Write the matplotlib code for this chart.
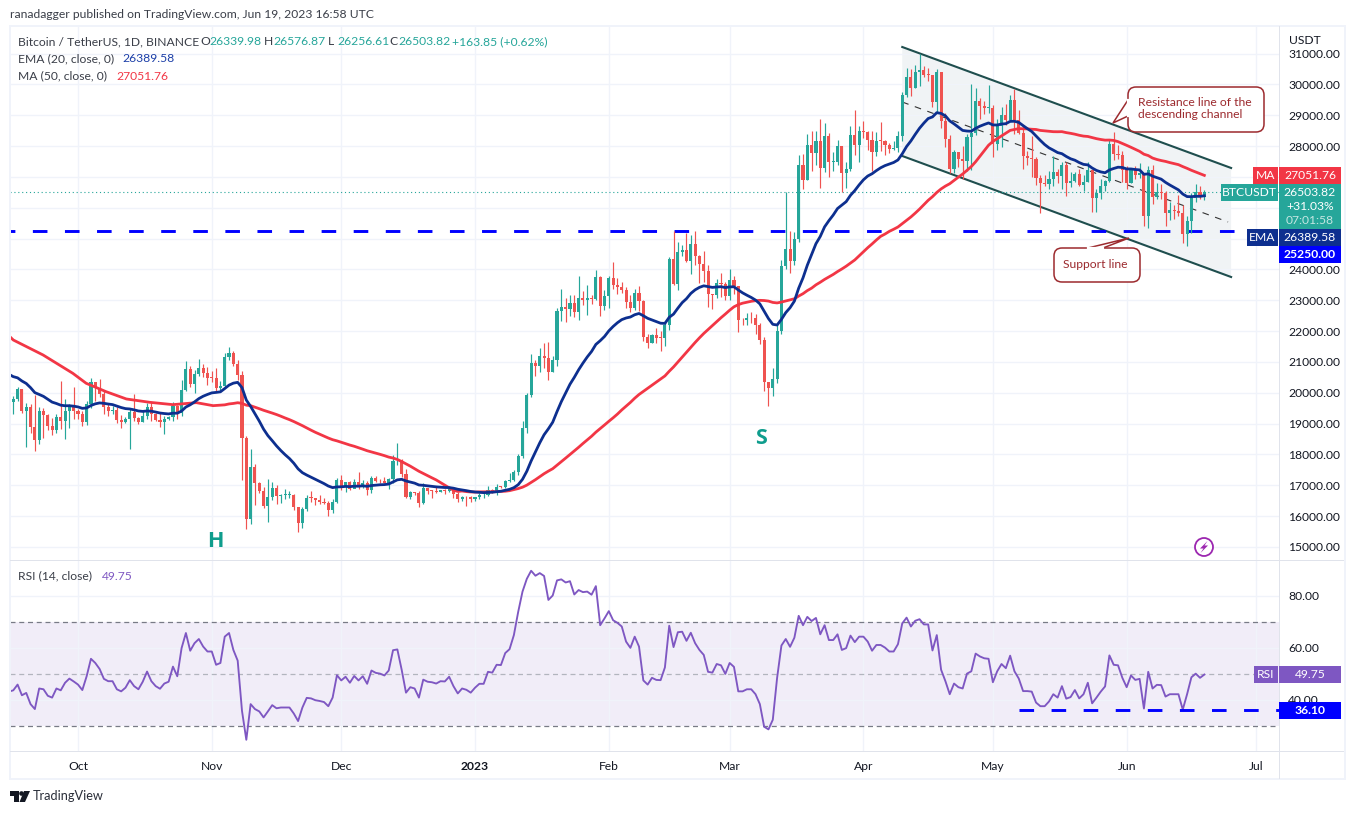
import matplotlib
matplotlib.use("Agg")
import matplotlib.pyplot as plt
import numpy as np
from matplotlib.patches import Rectangle, FancyBboxPatch, Polygon, Circle

plt.rcParams['font.family'] = ['Lato', 'DejaVu Sans']

# ---- daily candles, 15 Sep 2022 .. 19 Jun 2023 (values in USDT) ----
first_open = 20227
close_sep = [19701,19803,20113,19416,19537,18875,18461,19401,19288,18920,18802,19222,19079,19412,19591,19422]
high_sep  = [20330,19897,20200,20124,19659,19634,19929,19551,19500,19316,19180,19315,20383,19790,19645,20181]
low_sep   = [19497,19313,19748,19356,18254,18708,18124,18340,18532,18805,18630,18680,18816,18492,18843,19160]
close_oct = [19310,19056,19629,20337,20158,19955,19531,19417,19439,19131,19060,19155,19375,19176,19068,19262,19549,19327,19123,19041,19164,19204,19570,19329,20080,20771,20295,20595,20818,20635,20495]
high_oct  = [19484,19395,19719,20475,20365,20456,20055,19622,19560,19525,19267,19221,19513,19950,19212,19420,19676,19700,19347,19345,19250,19250,19695,19600,20400,21020,20860,20750,21090,20930,20840]
low_oct   = [19159,18920,18959,19493,19730,19854,19320,19255,19313,19024,18860,19015,18190,19070,18975,19063,19160,19100,19070,18900,18650,19115,19070,19160,19240,20050,20200,20000,20550,20510,20240]
close_nov = [20485,20159,20208,21148,21299,20925,20590,18547,15922,17601,17070,16812,16330,16619,16900,16662,16692,16700,16700,16280,15781,16226,16603,16598,16522,16458,16428,16212,16442,17163]
high_nov  = [20700,20800,20390,21300,21480,21360,21060,20700,18590,18170,17680,17100,16960,17190,17100,17000,16730,16880,16830,16720,16290,16300,16670,16810,16600,16700,16600,16480,16550,17245]
low_nov   = [20350,20050,20030,20180,21080,20880,20400,17166,15588,15746,16361,16750,16260,15815,16525,16400,16420,16550,16600,16200,15480,15630,16170,16460,16350,16400,16400,16000,16100,16420]
close_dec = [16978,17092,16885,17105,16966,17089,16836,17224,17128,17127,17085,17208,17774,17803,17356,16632,16777,16739,16438,16897,16824,16821,16778,16837,16830,16917,16707,16547,16633,16607,16542]
high_dec  = [17320,17105,17150,17200,17420,17160,17140,17300,17300,17220,17270,17240,17990,18380,17840,17520,16800,16790,16815,17060,16900,16860,16950,16860,16865,16930,16950,16780,16660,16640,16640]
low_dec   = [16860,16790,16860,16900,16880,16910,16690,16740,17100,17090,17070,16870,17070,17660,17280,16580,16570,16700,16300,16400,16720,16600,16750,16790,16730,16790,16590,16460,16490,16330,16470]
close_jan = [16616,16672,16674,16850,16831,16950,16943,17127,17178,17440,17943,18846,19930,20954,20871,21185,21132,20677,21071,22667,22783,22707,22917,22632,23060,23009,23074,23031,23743,22827,23125]
high_jan  = [16630,16760,16770,16990,16880,17040,16980,17180,17400,17500,18000,19100,20000,21260,21080,21460,21610,21650,21190,22750,23370,23080,23170,23170,23800,23290,23500,23180,23970,23800,23320]
low_jan   = [16490,16550,16600,16660,16750,16670,16910,16910,17100,17150,17320,17900,18710,19880,20550,20660,20820,20400,20660,20860,22340,22290,22500,22470,22350,22850,22520,22880,23000,22500,22700]
close_feb = [23733,23488,23431,23326,22932,22762,23240,22963,21796,21625,21862,21783,21773,22199,24324,23538,24566,24630,24272,24837,24439,24188,23947,23198,23175,23561,23522,23147]
high_feb  = [23800,24250,23720,23580,23440,23160,23370,23450,23000,21900,21910,22100,21990,22320,24400,25250,24900,24800,25190,25130,25250,24480,24600,24130,23220,23680,23880,23600]
low_feb   = [22750,23360,23200,23250,22740,22630,22700,22650,21690,21450,21600,21630,21350,21530,22050,23500,23330,24440,24230,23840,24150,23570,23600,22770,22720,23080,23100,23020]
close_mar = [23646,23475,22362,22346,22430,22410,22197,21705,20362,20150,20455,21997,24113,24670,24285,24998,27395,26907,28038,27767,28175,27307,28333,27493,27494,27994,27139,27268,28348,28033,28478]
high_mar  = [24000,23780,23480,22420,22600,22620,22540,22270,21800,20300,20800,22220,24300,26500,25250,25200,27700,27750,28400,28500,28480,28870,28750,28420,27800,28200,28000,27500,28650,29170,28650]
low_mar   = [23020,23200,21960,22200,22200,22250,21900,21580,20050,19570,19900,20330,21900,24000,23900,24130,24900,26600,26900,27200,27380,26630,27150,27000,27200,27400,26500,26650,27200,27700,27500]
close_apr = [28473,28199,27812,28175,28170,28033,27906,27947,28333,29652,30235,29884,30399,30485,30318,30315,29445,30397,28822,28245,27262,27816,27590,27510,28300,28416,29472,29311,29230,29233]
high_apr  = [28800,28500,28500,28450,28770,28200,28100,28170,28500,29770,30550,30500,30620,31000,30600,30550,30320,30490,30400,29070,28370,27880,27820,28000,28400,30020,29890,29570,29450,29980]
low_apr   = [28250,27870,27200,27670,27830,27700,27770,27880,27800,28170,29600,29620,29880,29950,30230,30120,29270,29100,28600,27980,27130,27120,27320,26950,27200,27240,28370,28880,29030,29080]
close_may = [28068,28669,29026,28838,29506,28848,28430,27668,27628,27598,26968,26805,26784,26931,27171,27036,27403,26821,26880,27102,26747,26851,27225,26334,26473,26705,26868,28085,27745,27702,27219]
high_may  = [29330,28880,29260,29370,29670,29840,29180,28660,27840,28330,27660,27050,27050,27200,27670,27270,27470,27490,27170,27150,27260,27050,27470,27230,26600,26930,26900,28200,28450,28050,27830]
low_may   = [27660,27870,27970,28680,28820,28400,28390,27250,27380,27000,26750,25830,26700,26600,26700,26800,26600,26380,26660,26850,26700,26550,26830,25860,25880,26300,26550,26850,27550,27570,26840]
close_jun = [26819,27249,27069,27115,25728,27231,26339,26498,26477,25841,25925,25902,25841,25160,25574,26333,26510,26339,26503.82]
high_jun  = [27350,27300,27340,27440,27130,27350,27380,26810,26780,26540,26200,26090,26400,26090,25750,26470,26770,26700,26576.87]
low_jun   = [26600,26800,26930,26970,25400,25350,26120,26300,26280,25400,25620,25640,25740,24850,24750,25170,26180,26290,26256.61]

# ---- EMA(20), one value a day, 15 Sep 2022 .. 19 Jun 2023 ----
ema_val = [20600,20524,20485,20383,20303,20167,20005,19947,19884,19792,
           19698,19653,19598,19580,19581,19566,19542,19496,19509,19588,
           19642,19672,19659,19636,19617,19571,19522,19487,19476,19447,
           19411,19397,19411,19403,19376,19344,19327,19315,19339,19338,
           19409,19539,19611,19705,19811,19889,19947,19998,20013,20032,
           20138,20249,20313,20339,20168,19765,19559,19322,19083,18821,
           18611,18448,18278,18127,17991,17868,17717,17533,17409,17332,
           17262,17192,17122,17056,16976,16925,16948,16951,16964,16957,
           16971,16971,16982,16968,16992,17005,17017,17023,17041,17111,
           17177,17194,17140,17105,17070,17010,16999,16982,16967,16949,
           16938,16928,16927,16906,16872,16849,16826,16799,16782,16771,
           16762,16770,16776,16793,16807,16837,16869,16923,17020,17194,
           17455,17788,18082,18377,18639,18833,19046,19391,19714,19999,
           20277,20501,20745,20961,21162,21340,21569,21689,21826,22008,
           22151,22273,22373,22426,22458,22532,22573,22499,22416,22363,
           22308,22257,22251,22449,22553,22745,22924,23053,23223,23339,
           23420,23470,23444,23419,23432,23441,23413,23435,23439,23336,
           23242,23165,23093,23008,22884,22644,22407,22221,22199,22382,
           22600,22760,22973,23394,23728,24139,24484,24836,25071,25382,
           25583,25765,25977,26088,26200,26405,26560,26743,26908,27031,
           27105,27207,27299,27369,27420,27470,27552,27752,27988,28169,
           28381,28581,28747,28896,28948,29086,29061,28983,28819,28723,
           28615,28510,28490,28483,28577,28647,28703,28753,28688,28686,
           28718,28729,28803,28807,28771,28666,28567,28475,28331,28186,
           28052,27945,27871,27792,27755,27666,27591,27544,27468,27409,
           27392,27291,27213,27165,27137,27227,27276,27317,27308,27261,
           27260,27242,27230,27087,27101,27028,26978,26930,26826,26740,
           26660,26582,26447,26364,26361,26375,26372,26389.58]

# ---- MA(50): read at these day numbers up to day 47, then daily from day 50 ----
ma_early_day = [0,1,7.9,14.8,17.9,22.5,27.2,32.6,38,43.4,47.3]
ma_early_val = [21850,21713,21227,20632,20308,20037,19800,19692,19616,19681,19583]
ma_daily_val = [19609,19639,19655,19678,19658,19599,19582,19535,19485,19433,
                19389,19343,19295,19241,19183,19129,19068,19002,18934,18859,
                18788,18719,18658,18598,18533,18479,18441,18397,18351,18305,
                18266,18220,18171,18121,18083,18045,18004,17962,17915,17884,
                17838,17770,17697,17621,17539,17455,17383,17310,17243,17174,
                17088,16999,16919,16841,16801,16815,16795,16784,16780,16787,
                16788,16787,16790,16795,16800,16808,16826,16859,16894,16938,
                17005,17094,17182,17277,17376,17460,17538,17652,17766,17882,
                17999,18112,18232,18355,18472,18590,18723,18838,18956,19075,
                19189,19310,19444,19567,19688,19824,19945,20045,20141,20243,
                20342,20441,20547,20699,20839,20998,21158,21313,21477,21632,
                21782,21924,22051,22175,22307,22435,22554,22678,22789,22859,
                22907,22937,22968,22988,22999,22993,22975,22931,22915,22943,
                22978,23011,23050,23138,23215,23315,23395,23502,23586,23678,
                23758,23839,23932,24016,24106,24208,24309,24443,24580,24707,
                24828,24956,25075,25149,25236,25304,25378,25486,25594,25703,
                25827,25958,26100,26243,26361,26499,26613,26705,26781,26890,
                26995,27097,27215,27339,27494,27673,27855,28031,28152,28243,
                28330,28421,28511,28540,28570,28563,28560,28548,28541,28510,
                28496,28485,28469,28467,28470,28439,28416,28388,28353,28326,
                28314,28277,28243,28216,28195,28198,28186,28147,28087,28026,
                27963,27895,27831,27739,27695,27614,27568,27533,27505,27467,
                27433,27400,27337,27280,27217,27161,27103,27051.76]

# ---- RSI(14), one reading a day, last one on 19 Jun 2023 ----
rsi_val = [43.2,43.7,45.9,41.8,42.7,38.4,36.5,44.4,44.1,41.6,40.9,44.4,43.7,46.6,48.2,47.1,45.9,43.8,49.1,55.8,54.2,51.9,48.1,47.2,47.2,44.1,43.3,44.7,47.6,45.3,
           44.1,47.0,50.9,47.2,45.3,44.3,46.3,47.0,52.8,49.1,59.9,65.7,58.9,61.8,63.4,60.5,58.6,58.6,53.5,54.2,64.3,65.7,59.2,55.1,35.8,24.7,38.4,36.5,35.6,33.3,
           35.6,38.0,36.8,37.1,37.1,37.1,34.8,31.9,37.1,40.8,40.6,39.9,39.6,39.2,37.6,40.9,49.5,47.5,48.9,46.6,49.2,47.5,49.1,46.2,51.3,50.4,50.1,49.4,51.3,59.1,
           59.4,51.6,42.8,44.9,44.4,40.9,47.8,47.0,46.8,46.3,47.2,47.1,48.9,45.3,42.5,44.4,43.9,42.8,44.7,46.2,46.2,50.8,50.5,53.5,53.4,58.0,59.5,64.9,73.8,81.6,
           86.5,89.6,87.7,88.7,87.6,78.4,80.1,85.9,86.3,85.1,85.6,80.5,82.2,81.4,81.6,80.4,83.7,68.7,71.3,74.1,70.6,69.6,68.2,62.4,60.0,64.3,60.5,47.5,45.9,48.5,
           47.7,47.6,52.5,68.5,60.3,66.0,66.2,62.7,65.8,61.8,59.2,57.3,50.8,50.5,53.8,53.3,50.0,54.2,52.7,43.3,43.3,44.1,44.1,42.2,38.4,29.7,28.7,32.4,48.5,60.9,
           63.4,60.4,63.9,72.3,68.7,71.9,70.3,71.5,65.2,68.7,63.0,63.0,65.2,59.2,59.9,64.7,62.2,64.3,64.3,62.4,58.9,61.1,61.1,60.1,58.6,58.6,61.4,69.4,71.6,68.2,
           70.4,71.0,69.0,69.0,59.0,64.9,51.6,47.2,42.2,46.3,44.9,44.4,50.1,51.0,57.8,56.7,56.0,55.8,46.8,51.0,53.8,52.2,57.0,51.0,48.2,43.4,43.4,43.2,39.0,37.6,
           37.6,39.4,42.2,40.9,45.3,40.5,41.1,43.8,40.6,42.2,46.6,38.7,40.9,43.2,45.2,57.1,53.5,53.3,48.5,44.9,49.4,47.7,48.1,36.7,50.8,44.4,45.8,45.7,41.3,42.2,
           42.2,42.2,36.3,42.2,48.7,50.1,48.5,49.75]

# ---- axis labels and levels ----
price_ticks = [15000,16000,17000,18000,19000,20000,21000,22000,23000,24000,25000,26000,27000,28000,29000,30000,31000]
price_labels = {15000:'15000.00',16000:'16000.00',17000:'17000.00',18000:'18000.00',19000:'19000.00',20000:'20000.00',21000:'21000.00',22000:'22000.00',23000:'23000.00',24000:'24000.00',28000:'28000.00',29000:'29000.00',30000:'30000.00',31000:'31000.00'}
month_days = [16,47,77,108,139,167,198,228,259,289]
month_names = ['Oct','Nov','Dec','2023','Feb','Mar','Apr','May','Jun','Jul']
rsi_ticks = [40,60,80]
rsi_labels = ['40.00','60.00','80.00']
support_level = 25250
rsi_level = 36.10
last_close = 26503.82

UP, DOWN = '#26a69a', '#ef5350'
NAVY, RED, PURPLE, BLUE = '#0d2f8f', '#f23645', '#7e57c2', '#0000ff'
GRID, SEP, INK = '#f0f3fa', '#e0e3eb', '#131722'
CHANNEL = '#1f4e4e'
CALLOUT = '#9c2a2e'
FS = 8.7

closes = np.array(close_sep+close_oct+close_nov+close_dec+close_jan+close_feb+close_mar+close_apr+close_may+close_jun, float)
highs = np.array(high_sep+high_oct+high_nov+high_dec+high_jan+high_feb+high_mar+high_apr+high_may+high_jun, float)
lows = np.array(low_sep+low_oct+low_nov+low_dec+low_jan+low_feb+low_mar+low_apr+low_may+low_jun, float)
opens = np.r_[first_open, closes[:-1]]
days = np.arange(len(closes))

W, H = 1355, 814
fig = plt.figure(figsize=(W/100, H/100), dpi=100, facecolor='white')
def axes_px(x0, y0, x1, y1, **kw):
    return fig.add_axes([x0/W, 1-y1/H, (x1-x0)/W, (y1-y0)/H], **kw)

XLIM = (0.24, 294.3)
ax = axes_px(10, 26, 1279, 560)
rs = axes_px(10, 561, 1279, 751)
ax.set_xlim(XLIM); rs.set_xlim(XLIM)
ax.set_ylim(14577, 31897)
rs.set_ylim(20.4, 93.35)
for a in (ax, rs):
    for s in a.spines.values():
        s.set_visible(False)
    a.set_xticks(month_days)
    a.grid(True, color=GRID, lw=1.0)
    a.set_axisbelow(True)
    a.tick_params(length=0)

ax.set_xticklabels([])
ax.yaxis.tick_right()
ax.set_yticks(price_ticks)
ax.set_yticklabels([price_labels.get(t, '') for t in price_ticks], fontsize=FS, color=INK)
ax.tick_params(axis='y', pad=6.5)

rs.yaxis.tick_right()
rs.set_yticks(rsi_ticks)
rs.set_yticklabels(rsi_labels, fontsize=FS, color=INK)
rs.tick_params(axis='y', pad=6.5)
rs.set_xticklabels(month_names, fontsize=FS, color=INK)
rs.tick_params(axis='x', pad=7)
rs.get_xticklabels()[3].set_fontweight('bold')

# channel drawing
ax.fill([207, 283.2, 283.2, 207], [31216, 27292, 23756, 27681], color='#f0f3f5', zorder=0.5, lw=0)
ax.plot([207, 283.2], [31216, 27292], color=CHANNEL, lw=1.5, zorder=1.2)
ax.plot([207, 283.2], [27681, 23756], color=CHANNEL, lw=1.5, zorder=1.2)
ax.plot([207, 282.5], [29432, 25540], color='#333333', lw=0.8, ls=(0, (6, 6)), zorder=1.2)

# levels
ax.axhline(last_close, color=UP, lw=0.8, ls=(0, (1, 2.5)), zorder=1.3)
ax.axhline(support_level, color=BLUE, lw=2.1, ls=(3.33, (5, 6)), dash_capstyle='butt', zorder=1.4)

# candles
colors = [UP if c >= o else DOWN for o, c in zip(opens, closes)]
ax.vlines(days, lows, highs, colors=colors, lw=0.85, zorder=2)
ax.bar(days, np.maximum(np.abs(closes-opens), 25), bottom=np.minimum(opens, closes),
       width=0.72, color=colors, lw=0, zorder=2.1)

# averages
ma_days = np.r_[ma_early_day, 50 + np.arange(len(ma_daily_val))]
ax.plot(ma_days, np.r_[ma_early_val, ma_daily_val], color=RED, lw=2.0, zorder=3, solid_joinstyle='round')
ax.plot(np.arange(len(ema_val)), ema_val, color=NAVY, lw=2.0, zorder=3.1, solid_joinstyle='round')

ax.text(47.75, 15193, 'H', fontsize=15.5, color='#0f9d8d', fontweight='bold', family='Open Sans', ha='center', va='center', zorder=4)
ax.text(174.3, 18534, 'S', fontsize=15.5, color='#0f9d8d', fontweight='bold', family='Open Sans', ha='center', va='center', zorder=4)

# RSI pane
rs.axhspan(30, 70, color=PURPLE, alpha=0.1, lw=0, zorder=0.5)
rs.axhline(70, color='#787b86', lw=0.9, ls=(0, (4, 3)), zorder=1)
rs.axhline(30, color='#787b86', lw=0.9, ls=(0, (4, 3)), zorder=1)
rs.axhline(50, color='#b2b5be', lw=0.9, ls=(0, (4, 3)), zorder=1)
rsi_days = 277 - len(rsi_val) + 1 + np.arange(len(rsi_val))
rs.plot(rsi_days, rsi_val, color=PURPLE, lw=1.35, zorder=3)
rs.plot([234, 294.3], [rsi_level, rsi_level], color=BLUE, lw=2.1, ls=(0, (5, 6)), dash_capstyle='butt', zorder=3.1)

# ---- overlay in screen pixels: frame, legend, price tags, callouts ----
ov = fig.add_axes([0, 0, 1, 1], facecolor='none')
ov.set_xlim(0, W); ov.set_ylim(H, 0); ov.axis('off')
def box(x0, y0, x1, y1, c, z=5):
    ov.add_patch(Rectangle((x0, y0), x1-x0, y1-y0, fc=c, ec='none', zorder=z))
def txt(x, y, s, c=INK, size=FS, ha='left', **kw):
    return ov.text(x, y, s, color=c, fontsize=size, ha=ha, va='center', zorder=7, **kw)

# frame
box(1280, 26, 1344, 49, 'white', 4)
for (x0, y0, x1, y1) in [(9, 25, 1346, 27), (9, 25, 11, 780), (1344, 25, 1346, 780), (9, 778, 1346, 780)]:
    box(x0, y0, x1, y1, GRID, 4.5)
box(10, 560, 1344, 561.3, SEP, 4.5)
box(10, 751, 1344, 752.3, SEP, 4.5)
box(1279, 26, 1280.3, 779, SEP, 4.5)

txt(10, 15, 'ranadagger published on TradingView.com, Jun 19, 2023 16:58 UTC', c='#3a3e48')
txt(18, 41.5, 'Bitcoin / TetherUS, 1D, BINANCE', c='#3a3e48')
for x, lab, val in [(200, 'O', '26339.98'), (264, 'H', '26576.87'), (328, 'L', '26256.61'), (389, 'C', '26503.82')]:
    txt(x, 41.5, lab, c='#3a3e48')
    txt(x+9.5, 41.5, val, c=UP)
txt(452, 41.5, '+163.85 (+0.62%)', c=UP)
txt(18, 59, 'EMA (20, close, 0)', c='#3a3e48')
txt(122, 59, '26389.58', c='#1c3fa8')
txt(18, 76, 'MA (50, close, 0)', c='#3a3e48')
txt(116, 76, '27051.76', c=RED)
txt(18, 576, 'RSI (14, close)', c='#3a3e48')
txt(102, 576, '49.75', c=PURPLE)
txt(1289, 40, 'USDT', c=INK)

# price tags
box(1253, 167, 1278, 184, RED); txt(1265.5, 175.5, 'MA', c='white', ha='center')
box(1279, 167, 1341, 184, RED); txt(1310, 175.5, '27051.76', c='white', ha='center')
box(1221, 184, 1278, 201, UP); txt(1249.5, 192.5, 'BTCUSDT', c='white', ha='center')
box(1279, 184, 1341, 229, UP)
txt(1310, 192.5, '26503.82', c='white', ha='center')
txt(1310, 206.5, '+31.03%', c='white', ha='center')
txt(1310, 220.5, '07:01:58', c='#c4e6e2', ha='center')
box(1247, 229, 1278, 246, NAVY); txt(1262.5, 237.5, 'EMA', c='white', ha='center')
box(1279, 229, 1341, 246, NAVY); txt(1310, 237.5, '26389.58', c='white', ha='center')
box(1279, 246, 1341, 263, BLUE); txt(1310, 254.5, '25250.00', c='white', ha='center', fontweight='bold')
box(1254, 666, 1278, 683, PURPLE); txt(1266, 674.5, 'RSI', c='white', ha='center')
box(1279, 666, 1341, 683, PURPLE); txt(1310, 674.5, '49.75', c='white', ha='center')
box(1279, 702, 1341, 719, BLUE); txt(1310, 710.5, '36.10', c='white', ha='center', fontweight='bold')

# callouts
def callout(x0, y0, x1, y1, tip, base):
    ov.add_patch(FancyBboxPatch((x0+8, y0+8), x1-x0-16, y1-y0-16, boxstyle='round,pad=8,rounding_size=8',
                                fc='white', ec=CALLOUT, lw=1.1, zorder=6))
    ov.add_patch(Polygon([base[0], tip, base[1]], closed=False, fc='white', ec=CALLOUT, lw=1.1, zorder=6.1))
    ov.plot([base[0][0], base[1][0]], [base[0][1], base[1][1]], color='white', lw=1.6, zorder=6.2)
callout(1128, 87, 1264, 132, (1113, 123), [(1128, 100), (1128, 116)])
callout(1054, 248, 1140, 282, (1129, 238), [(1088, 248), (1103, 248)])
txt(1138, 103, 'Resistance line of the', c=CALLOUT)
txt(1138, 115, 'descending channel', c=CALLOUT)
txt(1063, 265, 'Support line', c=CALLOUT)

# lightning mark
ov.add_patch(Circle((1204, 547), 9, fc='white', ec='#9c27b0', lw=1.3, zorder=6))
ov.add_patch(Polygon([(1207.5, 541), (1200, 548.5), (1203.5, 548.5), (1200.5, 553), (1208, 545.5), (1204.5, 545.5)],
                     fc='#9c27b0', ec='none', zorder=6.1))

# TradingView mark
ov.add_patch(Polygon([(10, 791), (19, 791), (19, 802), (14, 802), (14, 796), (10, 796)], fc='#131722', ec='none', zorder=6))
ov.add_patch(Circle((21.5, 793.5), 2.3, fc='#131722', ec='none', zorder=6))
ov.add_patch(Polygon([(24, 791), (30, 791), (25, 802), (19.5, 802)], fc='#131722', ec='none', zorder=6))
txt(33, 796.5, 'TradingView', c='#2a2e39', size=9.2)

fig.savefig('out.png', dpi=100, facecolor='white')
